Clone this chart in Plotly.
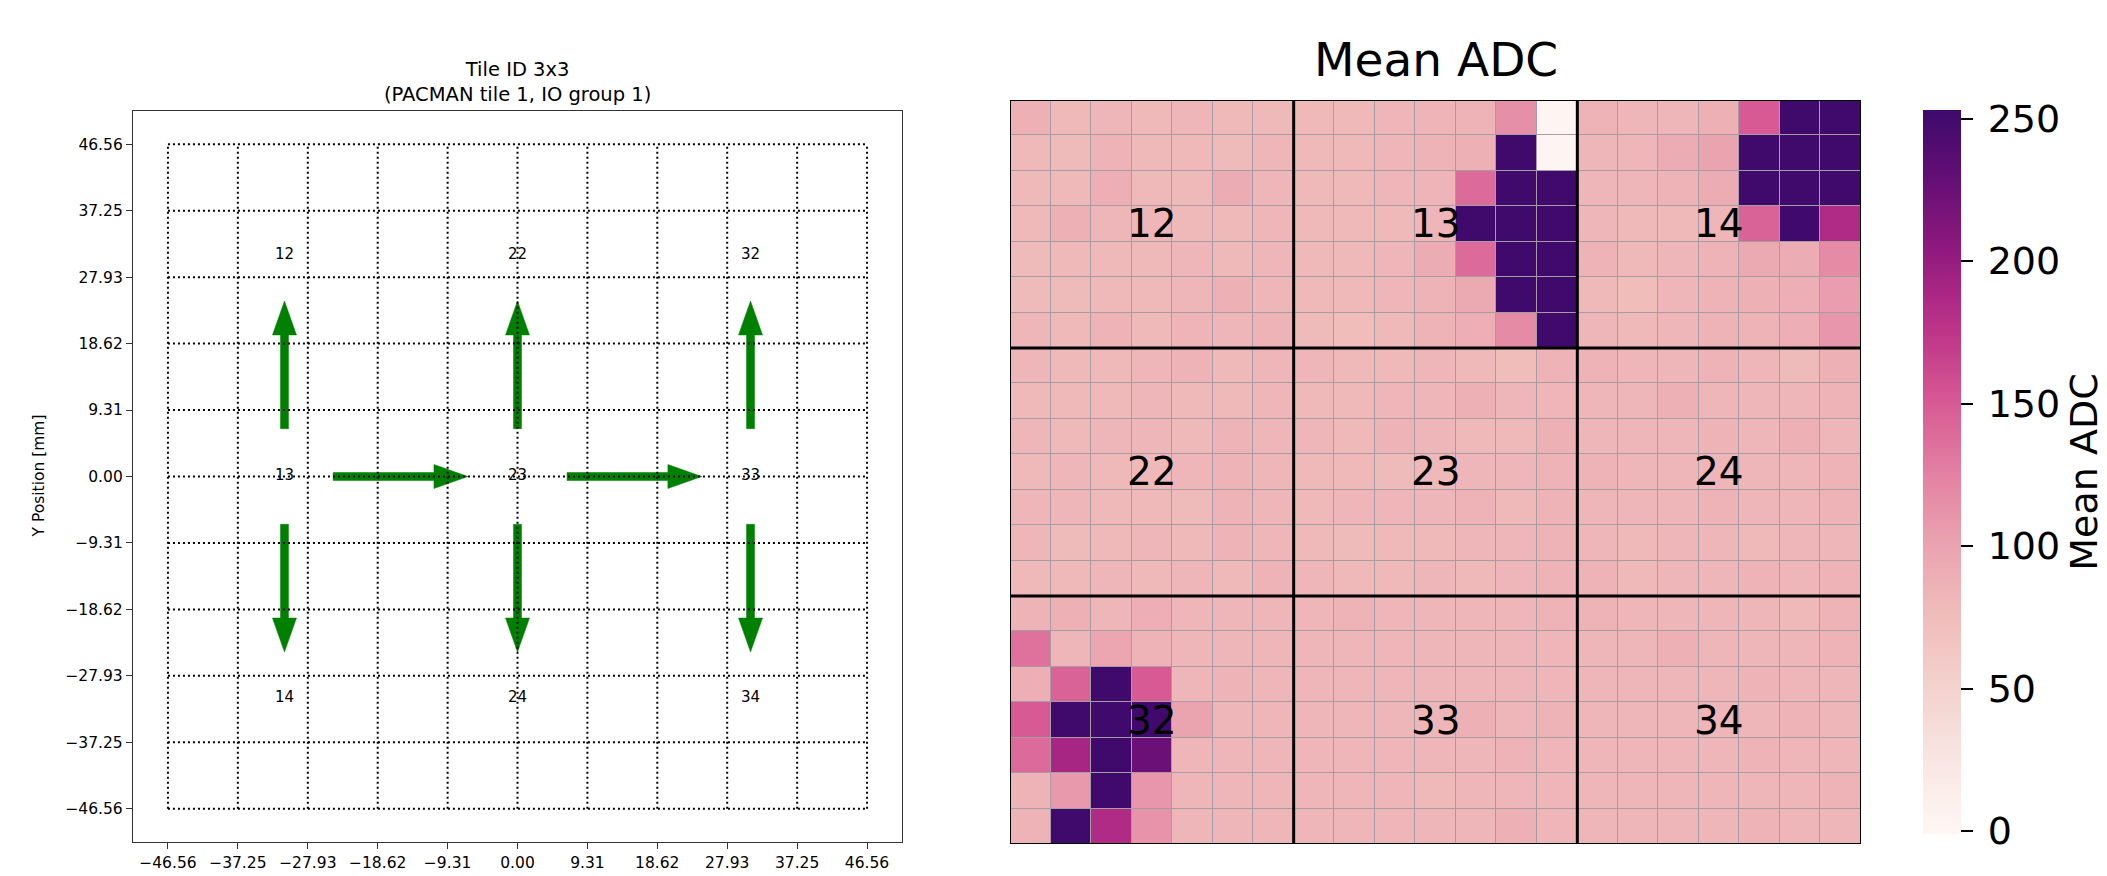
import plotly.graph_objects as go

# ---------------- data ----------------
TICKS = [-46.56, -37.25, -27.93, -18.62, -9.31, 0.00, 9.31, 18.62, 27.93, 37.25, 46.56]
TICK_TEXT = ["\u221246.56", "\u221237.25", "\u221227.93", "\u221218.62", "\u22129.31",
             "0.00", "9.31", "18.62", "27.93", "37.25", "46.56"]

# tile labels of the left layout plot (x, y, text)
LAYOUT_X = [-31.04, -31.04, -31.04, 0.0, 0.0, 0.0, 31.04, 31.04, 31.04]
LAYOUT_Y = [31.04, 0.0, -31.04, 31.04, 0.0, -31.04, 31.04, 0.0, -31.04]
LAYOUT_TXT = ["12", "13", "14", "22", "23", "24", "32", "33", "34"]

# arrows (tail -> tip) of the left plot
ARROW_X0 = [-31.04, 0.0, 31.04, -31.04, 0.0, 31.04, -24.56, 6.60]
ARROW_Y0 = [6.70, 6.70, 6.70, -6.70, -6.70, -6.70, 0.0, 0.0]
ARROW_X1 = [-31.04, 0.0, 31.04, -31.04, 0.0, 31.04, -6.60, 24.56]
ARROW_Y1 = [24.60, 24.60, 24.60, -24.60, -24.60, -24.60, 0.0, 0.0]

# Mean ADC per pixel, 21 x 21 (row 0 at top)
MEAN_ADC = [
    [88, 80, 82, 80, 82, 80, 80,   80, 80, 82, 84, 85, 115, 3,     85, 82, 82, 88, 150, 252, 252],
    [80, 78, 85, 80, 80, 78, 82,   80, 80, 82, 85, 88, 252, 3,     82, 82, 92, 100, 252, 252, 252],
    [80, 80, 90, 80, 80, 92, 82,   80, 80, 82, 84, 140, 252, 252,  82, 82, 85, 92, 252, 252, 252],
    [80, 88, 82, 82, 80, 80, 82,   80, 80, 80, 82, 252, 252, 252,  82, 80, 80, 82, 145, 252, 185],
    [78, 80, 80, 80, 82, 80, 82,   80, 80, 82, 92, 140, 252, 252,  85, 80, 82, 85, 95, 92, 118],
    [78, 78, 80, 80, 82, 88, 82,   80, 80, 82, 85, 95, 252, 252,   80, 75, 82, 85, 88, 90, 105],
    [82, 80, 85, 80, 84, 82, 85,   78, 75, 80, 85, 90, 118, 252,   82, 80, 82, 85, 85, 90, 110],
    [82, 80, 80, 82, 85, 80, 82,   82, 80, 80, 82, 80, 75, 85,     85, 82, 82, 85, 82, 78, 88],
    [80, 80, 80, 82, 80, 80, 82,   80, 80, 82, 82, 88, 82, 82,     82, 82, 88, 82, 82, 82, 85],
    [82, 80, 82, 82, 80, 85, 82,   82, 80, 85, 82, 80, 80, 88,     82, 82, 82, 85, 82, 88, 82],
    [80, 82, 80, 80, 82, 85, 82,   80, 80, 78, 80, 82, 82, 85,     85, 82, 82, 82, 82, 82, 85],
    [82, 82, 80, 80, 78, 85, 82,   80, 82, 82, 82, 85, 80, 85,     82, 82, 82, 85, 82, 82, 85],
    [82, 78, 80, 82, 80, 85, 82,   80, 78, 80, 80, 82, 82, 85,     82, 80, 82, 82, 80, 82, 82],
    [80, 80, 82, 80, 82, 80, 85,   82, 80, 80, 82, 80, 82, 85,     85, 80, 82, 82, 85, 82, 85],
    [85, 88, 82, 90, 82, 82, 82,   82, 85, 82, 82, 82, 82, 85,     85, 82, 82, 82, 82, 80, 85],
    [135, 82, 98, 85, 82, 82, 82,  82, 82, 82, 82, 82, 82, 82,     82, 82, 88, 82, 82, 82, 85],
    [90, 145, 252, 150, 82, 85, 82, 82, 82, 82, 82, 82, 82, 82,    82, 82, 82, 82, 85, 82, 82],
    [150, 252, 252, 252, 100, 82, 82, 82, 82, 82, 82, 88, 82, 85,  82, 82, 82, 82, 82, 85, 82],
    [140, 190, 252, 225, 82, 82, 82, 82, 82, 82, 82, 82, 85, 82,   82, 82, 82, 82, 85, 82, 82],
    [85, 108, 252, 110, 82, 82, 82, 82, 82, 82, 80, 82, 82, 82,    82, 82, 82, 82, 82, 82, 85],
    [85, 252, 185, 112, 82, 82, 82, 82, 82, 82, 82, 82, 88, 82,    82, 82, 82, 82, 85, 82, 82],
]
TILE_LABELS = [["12", "13", "14"], ["22", "23", "24"], ["32", "33", "34"]]
CB_TICKS = [0, 50, 100, 150, 200, 250]
CB_TICK_TEXT = ["\u2009" + str(v) for v in CB_TICKS]

# ---------------- layout geometry ----------------
W, H = 2107, 876
L_X0, L_X1, L_Y0, L_Y1 = 133, 902, 111, 842     # left axes (px)
R_X0, R_X1, R_Y0, R_Y1 = 1010, 1861, 100, 844   # heatmap axes (px)
span = TICKS[-1] - TICKS[0]
RANGE = [TICKS[0] - 0.05 * span, TICKS[-1] + 0.05 * span]

def dom_x(a, b):
    return [a / W, b / W]

def dom_y(a, b):
    return [1 - b / H, 1 - a / H]

GREEN = "#008000"
FONT = "DejaVu Sans"

fig = go.Figure()

# ---- arrows as filled polygons (FancyArrow-like), computed in pixel space ----
sx = (L_X1 - L_X0) / (RANGE[1] - RANGE[0])
sy = (L_Y1 - L_Y0) / (RANGE[1] - RANGE[0])
SHAFT_W, HEAD_W, HEAD_L = 8.0, 24.0, 34.0
for x0, y0, x1, y1 in zip(ARROW_X0, ARROW_Y0, ARROW_X1, ARROW_Y1):
    px0, py0, px1, py1 = x0 * sx, y0 * sy, x1 * sx, y1 * sy
    dx, dy = px1 - px0, py1 - py0
    ln = (dx * dx + dy * dy) ** 0.5
    ux, uy = dx / ln, dy / ln
    nx, ny = -uy, ux
    bx, by = px1 - ux * HEAD_L, py1 - uy * HEAD_L
    pts = [
        (px0 + nx * SHAFT_W / 2, py0 + ny * SHAFT_W / 2),
        (bx + nx * SHAFT_W / 2, by + ny * SHAFT_W / 2),
        (bx + nx * HEAD_W / 2, by + ny * HEAD_W / 2),
        (px1, py1),
        (bx - nx * HEAD_W / 2, by - ny * HEAD_W / 2),
        (bx - nx * SHAFT_W / 2, by - ny * SHAFT_W / 2),
        (px0 - nx * SHAFT_W / 2, py0 - ny * SHAFT_W / 2),
    ]
    fig.add_trace(go.Scatter(
        x=[p[0] / sx for p in pts] + [pts[0][0] / sx],
        y=[p[1] / sy for p in pts] + [pts[0][1] / sy],
        mode="lines", fill="toself", fillcolor=GREEN,
        line=dict(color=GREEN, width=0.5), hoverinfo="skip", showlegend=False,
        xaxis="x", yaxis="y"))

# ---- dotted grid lines ----
gx, gy = [], []
for t in TICKS:
    gx += [t, t, None]
    gy += [TICKS[0], TICKS[-1], None]
    gx += [TICKS[0], TICKS[-1], None]
    gy += [t, t, None]
fig.add_trace(go.Scatter(x=gx, y=gy, mode="lines",
                         line=dict(color="black", width=2, dash="2px,3px"),
                         hoverinfo="skip", showlegend=False, xaxis="x", yaxis="y"))

# ---- tile labels on layout plot ----
fig.add_trace(go.Scatter(x=LAYOUT_X, y=LAYOUT_Y, mode="text", text=LAYOUT_TXT,
                         textfont=dict(family=FONT, size=15, color="black"),
                         hoverinfo="skip", showlegend=False, xaxis="x", yaxis="y"))

# ---- heatmap ----
n = len(MEAN_ADC)
colorscale = [
    [0.0, "#fff7f5"], [0.1, "#f8e6e3"], [0.2, "#f3d2ce"], [0.3, "#f0bdbb"],
    [0.4, "#eaa3b0"], [0.5, "#e380a2"], [0.6, "#d65893"], [0.7, "#bc3388"],
    [0.8, "#931a7e"], [0.9, "#660f75"], [1.0, "#3d0a6c"],
]
fig.add_trace(go.Heatmap(
    z=MEAN_ADC, x=list(range(n)), y=list(range(n)),
    colorscale=colorscale, zmin=-1, zmax=253, xgap=1, ygap=1,
    xaxis="x2", yaxis="y2",
    colorbar=dict(
        x=1913 / W, xanchor="left", xref="paper",
        y=1 - (100 + 844) / 2 / H, yanchor="middle",
        thickness=38, thicknessmode="pixels",
        len=744, lenmode="pixels",
        outlinewidth=0,
        tickvals=CB_TICKS, ticktext=CB_TICK_TEXT,
        ticks="outside", ticklen=12, tickwidth=2, tickcolor="black",
        tickfont=dict(family=FONT, size=38, color="black"),
        title=dict(text="Mean ADC", side="right",
                   font=dict(family=FONT, size=38, color="black")),
    ),
))

tile = n // len(TILE_LABELS)
shapes = []
for k in range(1, len(TILE_LABELS)):
    b = k * tile - 0.5
    shapes.append(dict(type="line", xref="x2", yref="y2", x0=b, x1=b, y0=-0.5, y1=n - 0.5,
                       line=dict(color="black", width=3)))
    shapes.append(dict(type="line", xref="x2", yref="y2", y0=b, y1=b, x0=-0.5, x1=n - 0.5,
                       line=dict(color="black", width=3)))
shapes.append(dict(type="rect", xref="x2", yref="y2", x0=-0.5, x1=n - 0.5, y0=-0.5, y1=n - 0.5,
                   line=dict(color="black", width=2)))

annotations = []
for i, row in enumerate(TILE_LABELS):
    for j, lab in enumerate(row):
        annotations.append(dict(x=j * tile + tile // 2, y=i * tile + tile // 2, xref="x2", yref="y2",
                                text=lab, showarrow=False, xanchor="center", yanchor="middle",
                                font=dict(family=FONT, size=39, color="black")))
annotations.append(dict(x=(L_X0 + L_X1) / 2 / W, y=1 - 82 / H, xref="paper", yref="paper",
                        xanchor="center", yanchor="middle",
                        text="Tile ID 3x3<br>(PACMAN tile 1, IO group 1)", showarrow=False,
                        font=dict(family=FONT, size=19.5, color="black"), align="center"))
annotations.append(dict(x=(R_X0 + R_X1) / 2 / W, y=1 - 59 / H, xref="paper", yref="paper",
                        xanchor="center", yanchor="middle",
                        text="Mean ADC", showarrow=False,
                        font=dict(family=FONT, size=47, color="black")))
annotations.append(dict(x=38 / W, y=1 - (L_Y0 + L_Y1) / 2 / H, xref="paper", yref="paper",
                        xanchor="center", yanchor="middle",
                        text="Y Position [mm]", showarrow=False, textangle=-90,
                        font=dict(family=FONT, size=15.5, color="black")))

axis_common = dict(showgrid=False, zeroline=False, showline=True, mirror=True,
                   linecolor="#333333", linewidth=1.3, ticks="outside", ticklen=6,
                   tickcolor="#333333", tickfont=dict(family=FONT, size=15.5, color="black"),
                   tickvals=TICKS, ticktext=TICK_TEXT, range=RANGE, fixedrange=True)

fig.update_layout(
    width=W, height=H, margin=dict(l=0, r=0, t=0, b=0, autoexpand=False),
    paper_bgcolor="white", plot_bgcolor="white",
    showlegend=False,
    xaxis=dict(domain=dom_x(L_X0, L_X1), anchor="y", **axis_common),
    yaxis=dict(domain=dom_y(L_Y0, L_Y1), anchor="x", **axis_common),
    xaxis2=dict(domain=dom_x(R_X0, R_X1), anchor="y2", range=[-0.5, n - 0.5],
                showticklabels=False, showgrid=False, zeroline=False, ticks="", fixedrange=True),
    yaxis2=dict(domain=dom_y(R_Y0, R_Y1), anchor="x2", range=[n - 0.5, -0.5],
                showticklabels=False, showgrid=False, zeroline=False, ticks="", fixedrange=True),
    shapes=shapes, annotations=annotations,
)

# gap colour between heatmap cells (grey cell edges)
fig.add_shape(type="rect", xref="x2", yref="y2", x0=-0.5, x1=n - 0.5, y0=-0.5, y1=n - 0.5,
              fillcolor="#a89ca4", line=dict(width=0), layer="below")

fig.write_html("out.html", config={"displayModeBar": False},
               post_script="document.body.style.margin='0';document.body.style.overflow='hidden';")
